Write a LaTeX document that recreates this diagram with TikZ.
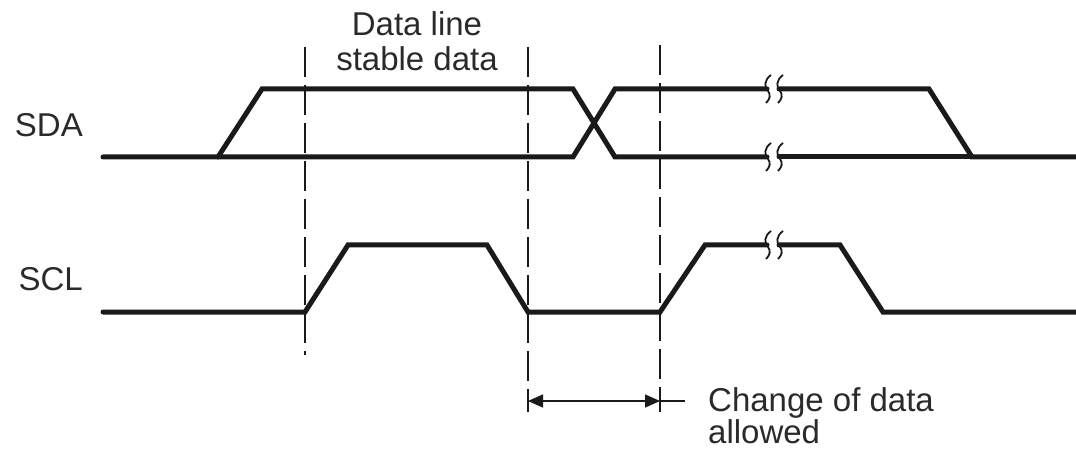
\documentclass[tikz,border=0pt]{standalone}
\usepackage{fontspec}
\setmainfont{Liberation Sans}
\usetikzlibrary{arrows.meta}
\definecolor{ink}{HTML}{1A1A1A}
\definecolor{txt}{HTML}{2A2A2A}
\begin{document}
\begin{tikzpicture}[x=1pt,y=-1pt,
  sig/.style={draw=ink,line width=5pt,line join=miter,line cap=round},
  guide/.style={draw=ink,line width=1.6pt,dash pattern=on 30pt off 8pt},
  brk/.style={draw=ink,line width=1.8pt},
  lbl/.style={text=txt,font=\fontsize{33}{35}\selectfont,inner sep=0pt},
  dim/.style={draw=ink,line width=1.5pt}]
\useasboundingbox (0,0) rectangle (1076,454);
% labels
\node[lbl,anchor=east] (sda) at (83,125) {SDA};
\node[lbl,anchor=east] (scl) at (83,279) {SCL};
\node[lbl,align=center,anchor=north] (stable) at (417,11) {Data line\\stable data};
\node[lbl,align=left,anchor=north west,font=\fontsize{33}{32}\selectfont] (change) at (708,387) {Change of data\\allowed};
% guides
\coordinate (g1t) at (305,47);  \coordinate (g1b) at (305,355);
\coordinate (g2t) at (528,47);  \coordinate (g2b) at (528,412);
\coordinate (g3t) at (660,45);  \coordinate (g3b) at (660,412);
\draw[guide] (g1t) -- (g1b);
\draw[guide] (g2t) -- (g2b);
\draw[guide] (g3t) -- (g3b);
% SDA
\draw[sig] (103,157) -- (573,157) -- (615,89) -- (767,89);
\draw[sig] (779,89) -- (929,89) -- (972,157) -- (1080,157);
\draw[sig] (218,157) -- (262,89) -- (573,89) -- (615,157) -- (767,157);
\draw[sig] (779,157) -- (972,157);
% SCL
\draw[sig] (103,312) -- (305,312) -- (348,245) -- (487,245) -- (528,312) -- (660,312) -- (705,245) -- (767,245);
\draw[sig] (779,245) -- (840,245) -- (883,312) -- (1080,312);
% break marks
\foreach \y in {89,157,245}{
  \draw[brk] (771,\y-14) .. controls (764,\y-9) and (764,\y-2) .. (768,\y+2) .. controls (771,\y+6) and (770,\y+10) .. (766,\y+14);
  \draw[brk] (783,\y-14) .. controls (776,\y-9) and (776,\y-2) .. (780,\y+2) .. controls (783,\y+6) and (782,\y+10) .. (778,\y+14);
}
% dimension arrow
\coordinate (a1) at (528,401);
\coordinate (a2) at (660,401);
\coordinate (a3) at (685,401);
\draw[dim,{Triangle[length=15pt,width=13pt]}-{Triangle[length=15pt,width=13pt]}] (a1) -- (a2);
\draw[dim] (a2) -- (a3);
\end{tikzpicture}
\end{document}
